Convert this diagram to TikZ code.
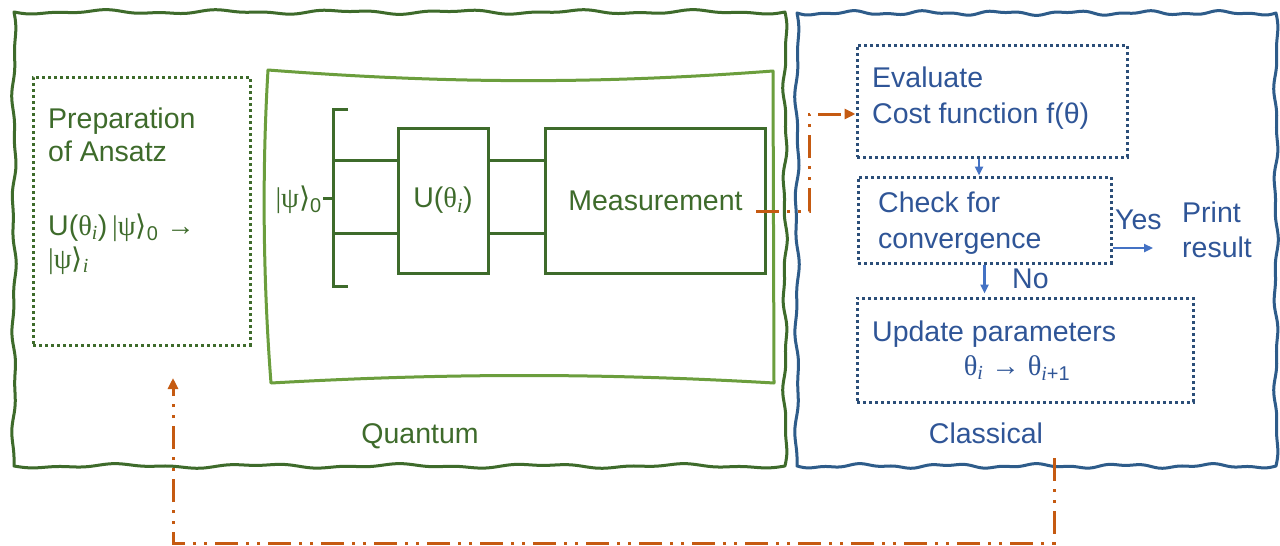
\documentclass[tikz,border=0pt]{standalone}
\usepackage{fontspec}
\setmainfont{Liberation Sans}
\newfontfamily\mf{Liberation Serif}
\newfontfamily\dv{DejaVu Sans}
\usetikzlibrary{arrows.meta,shadows}
\definecolor{qdark}{HTML}{3E6B2B}
\definecolor{qlight}{HTML}{6B9E3D}
\definecolor{cborder}{HTML}{2E5C8A}
\definecolor{ctext}{HTML}{2F5597}
\definecolor{cdot}{HTML}{2B4E78}
\definecolor{carrow}{HTML}{4472C4}
\definecolor{orng}{HTML}{C55A11}
\newcommand{\kt}[1]{{\mf|ψ}{\dv ⟩}\textsubscript{#1}}
\newcommand{\tht}{{\mf θ}}
\newcommand{\ii}{{\mf\itshape i}}
\newcommand{\arr}{{\mf →}}
\newcommand{\wavybox}[5]{%
  \draw[#5, line width=3pt, line join=round]
    plot[domain=#1:#3, samples=200] (\x, {#2 + 1.5*sin(180*13*((\x-#1)/(#3-#1))) + 0.9*sin(180*29*((\x-#1)/(#3-#1)))})
    -- plot[domain=#2:#4, samples=120] ({#3 + 1.5*sin(180*9*((\x-#2)/(#4-#2))) + 0.8*sin(180*21*((\x-#2)/(#4-#2)))}, \x)
    -- plot[domain=#3:#1, samples=200] (\x, {#4 + 1.5*sin(180*11*((\x-#1)/(#3-#1))) + 0.9*sin(180*27*((\x-#1)/(#3-#1)))})
    -- plot[domain=#4:#2, samples=120] ({#1 + 1.5*sin(180*8*((\x-#2)/(#4-#2))) + 0.8*sin(180*19*((\x-#2)/(#4-#2)))}, \x)
    -- cycle;}
\tikzset{
  lbl/.style={font=\fontsize{28.5}{34}\selectfont, inner sep=0, anchor=base west},
  qtxt/.style={lbl, text=qdark},
  ctxt/.style={lbl, text=ctext},
  gate/.style={draw=qdark, fill=white, line width=3pt, inner sep=0, font=\fontsize{28.5}{34}\selectfont, text=qdark,
    drop shadow={opacity=0.18, shadow xshift=1.5pt, shadow yshift=-1.5pt}},
  qdots/.style={draw=qdark, line width=3pt, dash pattern=on 3pt off 3pt, inner sep=0},
  cdots/.style={draw=cdot, line width=3pt, dash pattern=on 3pt off 3pt, inner sep=0},
  wire/.style={draw=qdark, line width=3pt},
  orangeline/.style={draw=orng, line width=3pt, dash pattern=on 23pt off 8pt on 3pt off 8pt on 3pt off 8pt, -{Triangle[length=11pt,width=10pt]}},
  barrow/.style={draw=carrow, line width=2.5pt, -{Triangle[length=9pt,width=8pt]}}
}
\begin{document}
\begin{tikzpicture}[x=1pt,y=-1pt]
\useasboundingbox[fill=white] (0,0) rectangle (1280,546);

% outer boxes
\wavybox{14}{12}{785}{466}{qdark}
\wavybox{797}{13}{1276}{466}{cborder}

% quantum side
\node[qdots, minimum width=217, minimum height=268] (prep) at (141.5,211) {};
\node[qtxt] (t1) at (48,128) {Preparation};
\node[qtxt] (t2) at (48,161) {of Ansatz};
\node[qtxt] (t3) at (48,235) {U(\tht\textsubscript{\ii})\,\kt{0} \arr};
\node[qtxt] (t4) at (48,268) {\kt{\ii}};

\draw[qlight, line width=3pt, line join=round]
  (268,70) .. controls (450,84) and (600,84) .. (773,71)
  -- (774,383)
  .. controls (600,373) and (450,373) .. (271,383)
  .. controls (263,280) and (262,170) .. cycle;

\draw[wire] (348,109) -- (333,109) -- (333,286) -- (348,286);
\draw[wire] (323,198) -- (333,198);
\node[qtxt, anchor=base east] (k0) at (322,207) {\kt{0}};

\node[gate, minimum width=90, minimum height=145] (U) at (443,200.5) {U(\tht\textsubscript{\ii})};
\node[gate, minimum width=220, minimum height=145] (M) at (655.5,200.5) {Measurement};

\coordinate (w1) at (333,160);
\coordinate (w2) at (333,233);
\draw[wire] (w1) -- (w1 -| U.west);
\draw[wire] (w2) -- (w2 -| U.west);
\draw[wire] (w1 -| U.east) -- (w1 -| M.west);
\draw[wire] (w2 -| U.east) -- (w2 -| M.west);

\node[qtxt, anchor=base] (quantum) at (420,443) {Quantum};

% classical side
\node[cdots, minimum width=270, minimum height=112] (eval) at (992,101) {};
\node[ctxt] (e1) at (872,87) {Evaluate};
\node[ctxt] (e2) at (872,123) {Cost function f(θ)};

\node[cdots, minimum width=253, minimum height=86] (check) at (984.5,220) {};
\node[ctxt] (c1) at (878,212) {Check for};
\node[ctxt] (c2) at (878,248) {convergence};

\node[cdots, minimum width=336, minimum height=104] (update) at (1025,350) {};
\node[ctxt] (u1) at (872,341) {Update parameters};
\node[ctxt, anchor=base] (u2) at (1017,375) {\tht\textsubscript{\ii} \arr{} \tht\textsubscript{\ii+1}};

\node[ctxt] (yes) at (1115,229) {Yes};
\node[ctxt] (p1) at (1182,222) {Print};
\node[ctxt] (p2) at (1182,257) {result};
\node[ctxt] (no) at (1012,288) {No};
\node[ctxt, anchor=base] (classical) at (986,443) {Classical};

\draw[barrow] ([xshift=-13pt]eval.south) -- ([xshift=-13pt]eval.south |- check.north);
\coordinate (yesend) at (1153,248);
\draw[barrow] (check.east |- yesend) -- (yesend);
\draw[barrow] (check.south) -- ([yshift=3pt]check.south |- update.north);

% orange connectors
\coordinate (mout) at (756,211);
\coordinate (cup) at (809,114);
\draw[orangeline] (mout) -| (cup) -- (cup -| eval.west);

\coordinate (cb) at (1054,458);
\coordinate (cc) at (173,543);
\coordinate (pa) at (173,378);
\draw[orangeline] (cb) -- (cb |- cc) -- (cc) -- (pa);
\end{tikzpicture}
\end{document}
